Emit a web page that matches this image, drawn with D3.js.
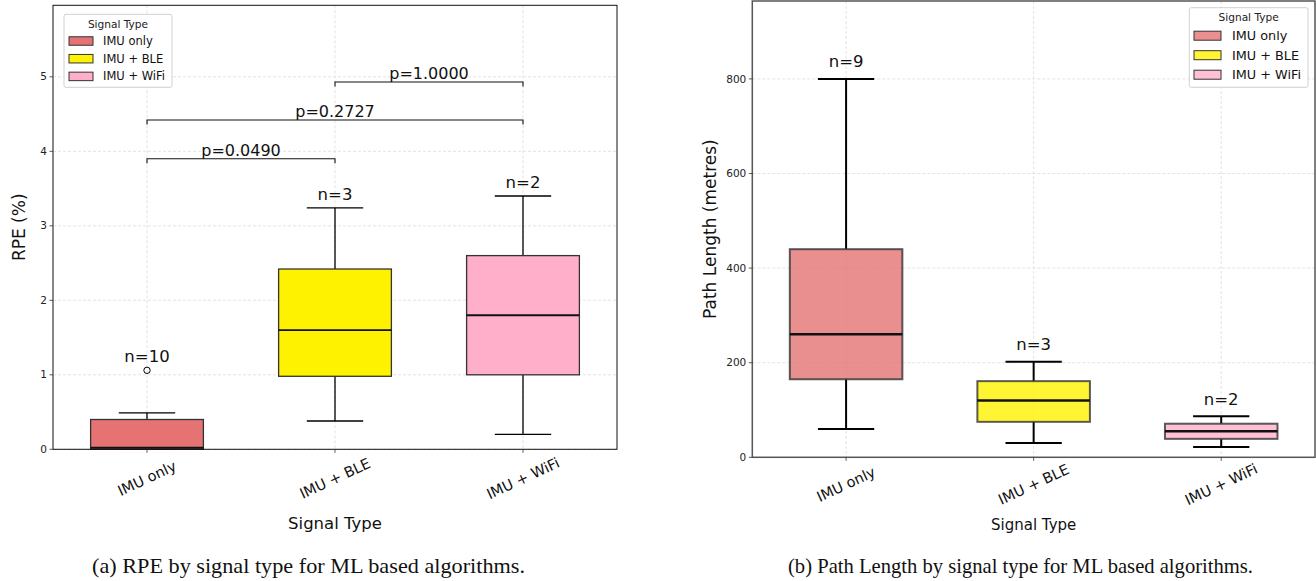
<!DOCTYPE html>
<html>
<head>
<meta charset="utf-8">
<script src="https://cdn.jsdelivr.net/npm/d3@7"></script>
<style>
  body { margin: 0; background: #fff; }
  svg { display: block; font-family: "DejaVu Sans", sans-serif; }
</style>
</head>
<body>
<svg id="chart" width="1316" height="581"></svg>
<script>
// categories shared by both panels
const categories = ["IMU only", "IMU + BLE", "IMU + WiFi"];
const fills = ["#e57373", "#fff200", "#ffafc9"];

// (a) RPE (%) box stats
const rpeLow = [0.0, 0.38, 0.2];
const rpeQ1 = [0.0, 0.98, 1.0];
const rpeMedian = [0.02, 1.6, 1.8];
const rpeQ3 = [0.4, 2.42, 2.6];
const rpeHigh = [0.49, 3.24, 3.4];
const rpeOutliers = [[1.06], [], []];
const rpeN = [10, 3, 2];
const rpeTicks = [0, 1, 2, 3, 4, 5];

// significance brackets: [from index, to index, height, label]
const pFrom = [0, 0, 1];
const pTo = [1, 2, 2];
const pLevel = [3.9, 4.42, 4.93];
const pLabels = ["p=0.0490", "p=0.2727", "p=1.0000"];

// (b) path length (metres) box stats
const pathLow = [60, 30, 22];
const pathQ1 = [165, 75, 39];
const pathMedian = [260, 120, 55];
const pathQ3 = [440, 161, 71];
const pathHigh = [800, 202, 87];
const pathN = [9, 3, 2];
const pathTicks = [0, 200, 400, 600, 800];

const svg = d3.select("#chart");

function drawPanel(p) {
  const g = svg.append("g");
  const x = d3.scalePoint().domain(categories).range([p.left, p.right]).padding(0.5);
  const y = d3.scaleLinear().domain(p.yDomain).range([p.bottom, p.top]);
  const boxW = x.step() * 0.6;
  const capW = x.step() * 0.3;

  // grid
  g.append("g")
    .selectAll("line.gy")
    .data(p.ticks)
    .join("line")
    .attr("x1", p.left).attr("x2", p.right)
    .attr("y1", (d) => y(d)).attr("y2", (d) => y(d))
    .attr("stroke", "#dcdcdc").attr("stroke-width", 0.8)
    .attr("stroke-dasharray", "3,2");
  g.append("g")
    .selectAll("line.gx")
    .data(categories)
    .join("line")
    .attr("x1", (d) => x(d)).attr("x2", (d) => x(d))
    .attr("y1", p.top).attr("y2", p.bottom)
    .attr("stroke", "#dcdcdc").attr("stroke-width", 0.8)
    .attr("stroke-dasharray", "3,2");

  const rows = categories.map((c, i) => ({
    c, i,
    low: p.low[i], q1: p.q1[i], med: p.median[i], q3: p.q3[i], high: p.high[i],
    out: p.outliers ? p.outliers[i] : [],
    n: p.n[i],
  }));

  const boxes = g.append("g").selectAll("g").data(rows).join("g");

  // whiskers
  boxes.append("line")
    .attr("x1", (d) => x(d.c)).attr("x2", (d) => x(d.c))
    .attr("y1", (d) => y(d.q3)).attr("y2", (d) => y(d.high))
    .attr("stroke", "#000").attr("stroke-width", p.lw);
  boxes.append("line")
    .attr("x1", (d) => x(d.c)).attr("x2", (d) => x(d.c))
    .attr("y1", (d) => y(d.q1)).attr("y2", (d) => y(d.low))
    .attr("stroke", "#000").attr("stroke-width", p.lw);
  // caps
  boxes.append("line")
    .attr("x1", (d) => x(d.c) - capW / 2).attr("x2", (d) => x(d.c) + capW / 2)
    .attr("y1", (d) => y(d.high)).attr("y2", (d) => y(d.high))
    .attr("stroke", "#000").attr("stroke-width", p.lw);
  boxes.append("line")
    .attr("x1", (d) => x(d.c) - capW / 2).attr("x2", (d) => x(d.c) + capW / 2)
    .attr("y1", (d) => y(d.low)).attr("y2", (d) => y(d.low))
    .attr("stroke", "#000").attr("stroke-width", p.lw);
  // box
  boxes.append("rect")
    .attr("x", (d) => x(d.c) - boxW / 2)
    .attr("y", (d) => y(d.q3))
    .attr("width", boxW)
    .attr("height", (d) => y(d.q1) - y(d.q3))
    .attr("fill", (d) => fills[d.i])
    .attr("fill-opacity", p.alpha)
    .attr("stroke", "#333")
    .attr("stroke-opacity", p.alpha)
    .attr("stroke-width", p.lw);
  // median
  boxes.append("line")
    .attr("x1", (d) => x(d.c) - boxW / 2).attr("x2", (d) => x(d.c) + boxW / 2)
    .attr("y1", (d) => y(d.med)).attr("y2", (d) => y(d.med))
    .attr("stroke", "#111").attr("stroke-width", p.lw + 0.6);
  // outliers
  boxes.selectAll("circle")
    .data((d) => d.out.map((v) => ({ c: d.c, v })))
    .join("circle")
    .attr("cx", (d) => x(d.c)).attr("cy", (d) => y(d.v))
    .attr("r", 3.2)
    .attr("fill", "none").attr("stroke", "#000").attr("stroke-width", 1);
  // n labels
  boxes.append("text")
    .attr("x", (d) => x(d.c))
    .attr("y", (d) => y(d3.max([d.high, ...d.out])) - p.nGap)
    .attr("text-anchor", "middle")
    .style("font-size", "16.5px")
    .attr("fill", "#111")
    .text((d) => `n=${d.n}`);

  // frame
  g.append("rect")
    .attr("x", p.left).attr("y", p.top)
    .attr("width", p.right - p.left).attr("height", p.bottom - p.top)
    .attr("fill", "none").attr("stroke", p.frame).attr("stroke-width", p.frameW);

  // y axis ticks
  const yt = g.append("g");
  yt.selectAll("line").data(p.ticks).join("line")
    .attr("x1", p.left - 3.5).attr("x2", p.left)
    .attr("y1", (d) => y(d)).attr("y2", (d) => y(d))
    .attr("stroke", "#333").attr("stroke-width", 0.8);
  yt.selectAll("text").data(p.ticks).join("text")
    .attr("x", p.left - 6).attr("y", (d) => y(d))
    .attr("dy", "0.35em")
    .attr("text-anchor", "end")
    .style("font-size", "10.5px")
    .attr("fill", "#222")
    .text((d) => d);

  // x axis ticks
  const xt = g.append("g");
  xt.selectAll("line").data(categories).join("line")
    .attr("x1", (d) => x(d)).attr("x2", (d) => x(d))
    .attr("y1", p.bottom).attr("y2", p.bottom + 3.5)
    .attr("stroke", "#333").attr("stroke-width", 0.8);
  xt.selectAll("text").data(categories).join("text")
    .attr("transform", (d) => `translate(${x(d)},${p.bottom + p.tickOff}) rotate(-25)`)
    .attr("text-anchor", "middle")
    .attr("dy", "0.35em")
    .style("font-size", "14.5px")
    .attr("fill", "#111")
    .text((d) => d);

  // axis titles
  g.append("text")
    .attr("x", (p.left + p.right) / 2).attr("y", p.xLabelY)
    .attr("text-anchor", "middle")
    .style("font-size", p.xLabelSize)
    .attr("fill", "#111")
    .text("Signal Type");
  g.append("text")
    .attr("transform", `translate(${p.yLabelX},${(p.top + p.bottom) / 2}) rotate(-90)`)
    .attr("text-anchor", "middle")
    .attr("dy", "0.35em")
    .style("font-size", p.yLabelSize)
    .attr("fill", "#111")
    .text(p.yLabel);

  // legend
  const L = p.legend;
  const lg = g.append("g").attr("transform", `translate(${L.x},${L.y})`);
  lg.append("rect")
    .attr("width", L.w).attr("height", L.h).attr("rx", 2)
    .attr("fill", "#fff").attr("fill-opacity", 0.85)
    .attr("stroke", "#d0d0d0").attr("stroke-width", 1);
  lg.append("text")
    .attr("x", L.w / 2).attr("y", L.titleY)
    .attr("dy", "0.35em")
    .attr("text-anchor", "middle")
    .style("font-size", "10.6px")
    .attr("fill", "#222")
    .text("Signal Type");
  const items = lg.selectAll("g.item").data(categories).join("g")
    .attr("transform", (d, i) => `translate(0,${L.row0 + i * L.rowH})`);
  items.append("rect")
    .attr("x", L.patchX).attr("y", -L.patchH / 2)
    .attr("width", L.patchW).attr("height", L.patchH)
    .attr("fill", (d, i) => fills[i]).attr("fill-opacity", p.alpha)
    .attr("stroke", "#333").attr("stroke-width", 1);
  items.append("text")
    .attr("x", L.textX).attr("dy", "0.35em")
    .style("font-size", L.font)
    .attr("fill", "#111")
    .text((d) => d);

  return { g, x, y };
}

// (a)
const a = drawPanel({
  left: 53, right: 617, top: 5.3, bottom: 449.3,
  yDomain: [0, 5.96], ticks: rpeTicks,
  low: rpeLow, q1: rpeQ1, median: rpeMedian, q3: rpeQ3, high: rpeHigh,
  outliers: rpeOutliers, n: rpeN,
  lw: 1.3, alpha: 1, nGap: 8,
  frame: "#111", frameW: 1,
  tickOff: 29, xLabelY: 529, xLabelSize: "16.5px",
  yLabel: "RPE (%)", yLabelX: 19, yLabelSize: "17px",
  legend: { x: 64, y: 14.3, w: 108, h: 73, titleY: 9.5, row0: 26.7, rowH: 17.7,
    patchX: 5, patchW: 24, patchH: 8.5, textX: 39, font: "11.5px" },
});

// significance brackets on (a)
const br = a.g.append("g").selectAll("g")
  .data(pLabels.map((t, i) => ({ t, from: categories[pFrom[i]], to: categories[pTo[i]], h: pLevel[i] })))
  .join("g");
br.append("path")
  .attr("d", (d) => {
    const x1 = a.x(d.from), x2 = a.x(d.to), yy = a.y(d.h), yb = a.y(d.h - 0.06);
    return `M${x1},${yb}L${x1},${yy}L${x2},${yy}L${x2},${yb}`;
  })
  .attr("fill", "none").attr("stroke", "#111").attr("stroke-width", 1.1);
br.append("text")
  .attr("x", (d) => (a.x(d.from) + a.x(d.to)) / 2)
  .attr("y", (d) => a.y(d.h) - 3)
  .attr("text-anchor", "middle")
  .style("font-size", "16px")
  .attr("fill", "#111")
  .text((d) => d.t);

// (b)
drawPanel({
  left: 752.3, right: 1315, top: 1, bottom: 457.3,
  yDomain: [0, 964.7], ticks: pathTicks,
  low: pathLow, q1: pathQ1, median: pathMedian, q3: pathQ3, high: pathHigh,
  outliers: null, n: pathN,
  lw: 2, alpha: 0.8, nGap: 11.5,
  frame: "#555", frameW: 1.5,
  tickOff: 27, xLabelY: 530, xLabelSize: "15px",
  yLabel: "Path Length (metres)", yLabelX: 710, yLabelSize: "17px",
  legend: { x: 1189.3, y: 7.7, w: 118.7, h: 79.6, titleY: 9.6, row0: 28, rowH: 19.5,
    patchX: 4.7, patchW: 27, patchH: 9, textX: 42.7, font: "12.8px" },
});

// captions
const captions = ["(a) RPE by signal type for ML based algorithms.",
  "(b) Path Length by signal type for ML based algorithms."];
const capX = [308.5, 1020.5];
const capW = [433, 465];
svg.append("g").selectAll("text").data(captions).join("text")
  .attr("x", (d, i) => capX[i]).attr("y", 573)
  .attr("text-anchor", "middle")
  .attr("textLength", (d, i) => capW[i])
  .attr("lengthAdjust", "spacingAndGlyphs")
  .style("font-family", "'Liberation Serif', serif")
  .style("font-size", "21px")
  .attr("fill", "#111")
  .text((d) => d);
</script>
</body>
</html>
